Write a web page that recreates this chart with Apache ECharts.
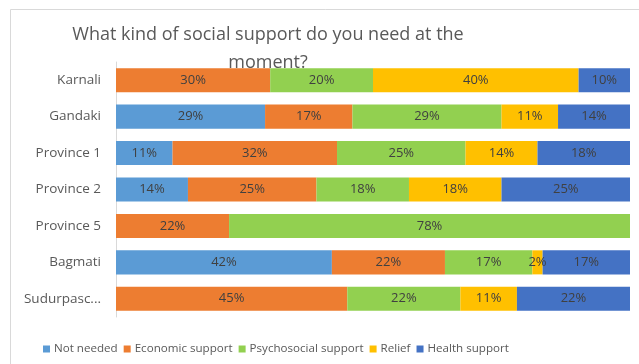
<!DOCTYPE html>
<html>
<head>
<meta charset="utf-8">
<script src="https://cdn.jsdelivr.net/npm/echarts@6/dist/echarts.min.js"></script>
<style>
  html, body { margin: 0; padding: 0; background: #fff; }
  #chart { width: 639px; height: 364px; }
</style>
</head>
<body>
<div id="chart"></div>
<script>
// Provinces, top to bottom
const provinces = ['Karnali', 'Gandaki', 'Province 1', 'Province 2', 'Province 5', 'Bagmati', 'Sudurpaschim'];

// Share of respondents (%) per support type
const notNeeded    = [0, 29, 11, 14, 0, 42, 0];
const economic     = [30, 17, 32, 25, 22, 22, 45];
const psychosocial = [20, 29, 25, 18, 78, 17, 22];
const relief       = [40, 11, 14, 18, 0, 2, 11];
const health       = [10, 14, 18, 25, 0, 17, 22];

const seriesNames = ['Not needed', 'Economic support', 'Psychosocial support', 'Relief', 'Health support'];
const seriesData = [notNeeded, economic, psychosocial, relief, health];
const colors = ['#5B9BD5', '#ED7D31', '#92D050', '#FFC000', '#4472C4'];

const FONT = '"Open Sans", "Noto Sans", sans-serif';

const chart = echarts.init(document.getElementById('chart'), null, { renderer: 'canvas' });

chart.setOption({
  animation: false,
  color: colors,
  textStyle: { fontFamily: FONT },
  graphic: [{
    type: 'rect',
    shape: { x: 10.5, y: 9.5, width: 700, height: 400 },
    style: { fill: 'none', stroke: '#d9d9d9', lineWidth: 1 },
    silent: true,
    z: -1
  }],
  title: {
    text: 'What kind of social support do you need at the\nmoment?',
    left: 263,
    top: 16,
    textAlign: 'center',
    textStyle: {
      fontFamily: FONT,
      fontSize: 18,
      fontWeight: 'normal',
      color: '#595959',
      lineHeight: 28
    }
  },
  legend: {
    bottom: 4,
    left: 38,
    itemWidth: 7,
    itemHeight: 7,
    itemGap: 6,
    icon: 'rect',
    textStyle: { fontFamily: FONT, fontSize: 11.6, color: '#595959', padding: [0, 0, 0, -1] },
    data: seriesNames
  },
  grid: { left: 116, right: 9, top: 62, bottom: 47, containLabel: false },
  xAxis: {
    type: 'value',
    min: 0,
    max: 100,
    show: false
  },
  yAxis: {
    type: 'category',
    inverse: true,
    data: provinces,
    axisLine: { show: true, lineStyle: { color: '#d9d9d9' } },
    axisTick: { show: false },
    axisLabel: {
      fontFamily: FONT,
      fontSize: 13.5,
      color: '#595959',
      margin: 15,
      width: 80,
      overflow: 'truncate',
      ellipsis: '...'
    }
  },
  series: seriesData.map((vals, i) => ({
    name: seriesNames[i],
    type: 'bar',
    stack: 'total',
    barCategoryGap: '34%',
    data: vals,
    label: {
      show: true,
      position: 'inside',
      fontFamily: FONT,
      fontSize: 13,
      color: '#404040',
      formatter: p => (p.value > 0 ? p.value + '%' : '')
    }
  }))
});
</script>
</body>
</html>
